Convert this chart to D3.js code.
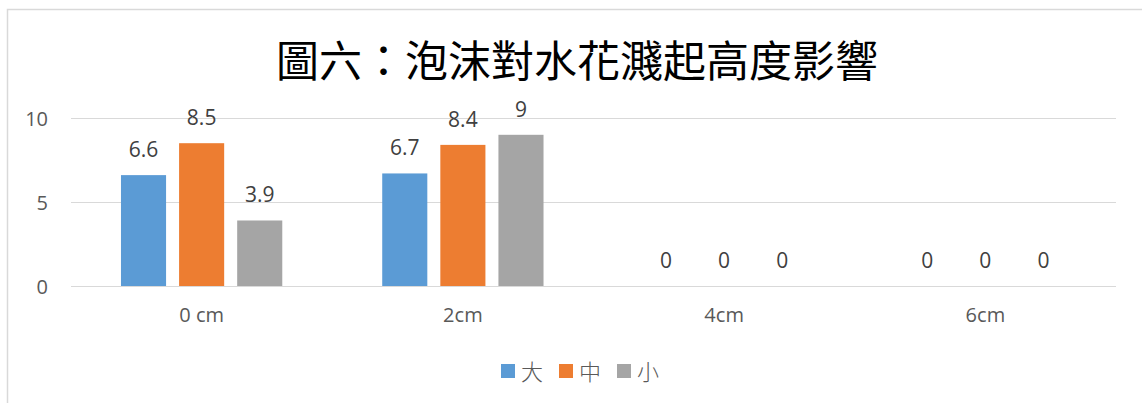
<!DOCTYPE html>
<html><head><meta charset="utf-8">
<script src="https://cdn.jsdelivr.net/npm/d3@7"></script>
<style>
html,body{margin:0;padding:0;background:#fff;}
svg{display:block;}
</style></head>
<body>
<svg id="chart" width="1142" height="403"></svg>
<script>
const title = "圖六：泡沫對水花濺起高度影響";
const categories = ["0 cm", "2cm", "4cm", "6cm"];
const seriesNames = ["大", "中", "小"];
const seriesColors = ["#5B9BD5", "#ED7D31", "#A5A5A5"];
const valuesBig = [6.6, 6.7, 0, 0];
const valuesMid = [8.5, 8.4, 0, 0];
const valuesSmall = [3.9, 9, 0, 0];
const yTicks = [0, 5, 10];

const seriesValues = [valuesBig, valuesMid, valuesSmall];
const svg = d3.select("#chart");
const W = 1142, H = 403;
const plot = {left: 71, right: 1116, top: 118, bottom: 286};

// outer frame
svg.append("rect").attr("x", 7.5).attr("y", 9.5).attr("width", W + 20).attr("height", H + 20)
  .attr("fill", "#fff").attr("stroke", "#D9D9D9").attr("stroke-width", 1.5);

const x0 = d3.scaleBand().domain(categories).range([plot.left, plot.right])
  .paddingInner(0.3826).paddingOuter(0.1913);
const x1 = d3.scaleBand().domain(seriesNames).range([0, x0.bandwidth()])
  .paddingInner(0.224).paddingOuter(0);
const y = d3.scaleLinear().domain([0, 10]).range([plot.bottom, plot.top]);

// gridlines
const yAxis = d3.axisLeft(y).tickValues(yTicks).tickSize(-(plot.right - plot.left)).tickPadding(23);
const gy = svg.append("g").attr("transform", `translate(${plot.left},0)`).call(yAxis);
gy.select(".domain").remove();
gy.selectAll(".tick line").attr("stroke", "#D9D9D9").attr("stroke-width", 1);
gy.selectAll(".tick text").attr("fill", "#595959").attr("font-family", "'Open Sans', sans-serif")
  .attr("font-size", 20).attr("dy", "0.35em");

// x axis labels
const xAxis = d3.axisBottom(x0).tickSize(0).tickPadding(22);
const gx = svg.append("g").attr("transform", `translate(0,${plot.bottom})`).call(xAxis);
gx.select(".domain").remove();
gx.selectAll(".tick text").attr("fill", "#595959").attr("font-family", "'Open Sans', sans-serif")
  .attr("font-size", 20);

// bars
const groups = svg.append("g").selectAll("g").data(categories).join("g")
  .attr("transform", d => `translate(${x0(d)},0)`);
groups.selectAll("rect").data((c, ci) => seriesNames.map((s, si) => ({s, si, v: seriesValues[si][ci]})))
  .join("rect")
  .attr("x", d => x1(d.s)).attr("width", x1.bandwidth())
  .attr("y", d => y(d.v)).attr("height", d => y(0) - y(d.v))
  .attr("fill", d => seriesColors[d.si]);
groups.selectAll("text").data((c, ci) => seriesNames.map((s, si) => ({s, si, v: seriesValues[si][ci]})))
  .join("text")
  .attr("x", d => x1(d.s) + x1.bandwidth() / 2).attr("y", d => y(d.v) - 18)
  .attr("text-anchor", "middle").attr("fill", "#404040")
  .attr("font-family", "'Open Sans', sans-serif").attr("font-size", 21)
  .text(d => d.v);

// title
svg.append("text").attr("x", 577).attr("y", 77).attr("text-anchor", "middle")
  .attr("font-family", "'Noto Sans CJK TC', sans-serif").attr("font-size", 43).attr("fill", "#000")
  .text(title);

// legend
const legendX = [501, 559, 617];
const leg = svg.append("g").selectAll("g").data(seriesNames).join("g")
  .attr("transform", (d, i) => `translate(${legendX[i]},364)`);
leg.append("rect").attr("width", 14).attr("height", 14).attr("fill", (d, i) => seriesColors[i]);
leg.append("text").attr("x", 20).attr("y", 16).attr("font-family", "'Noto Sans CJK TC', sans-serif")
  .attr("font-size", 22).attr("font-weight", 300).attr("fill", "#595959").text(d => d);
</script>
</body></html>
